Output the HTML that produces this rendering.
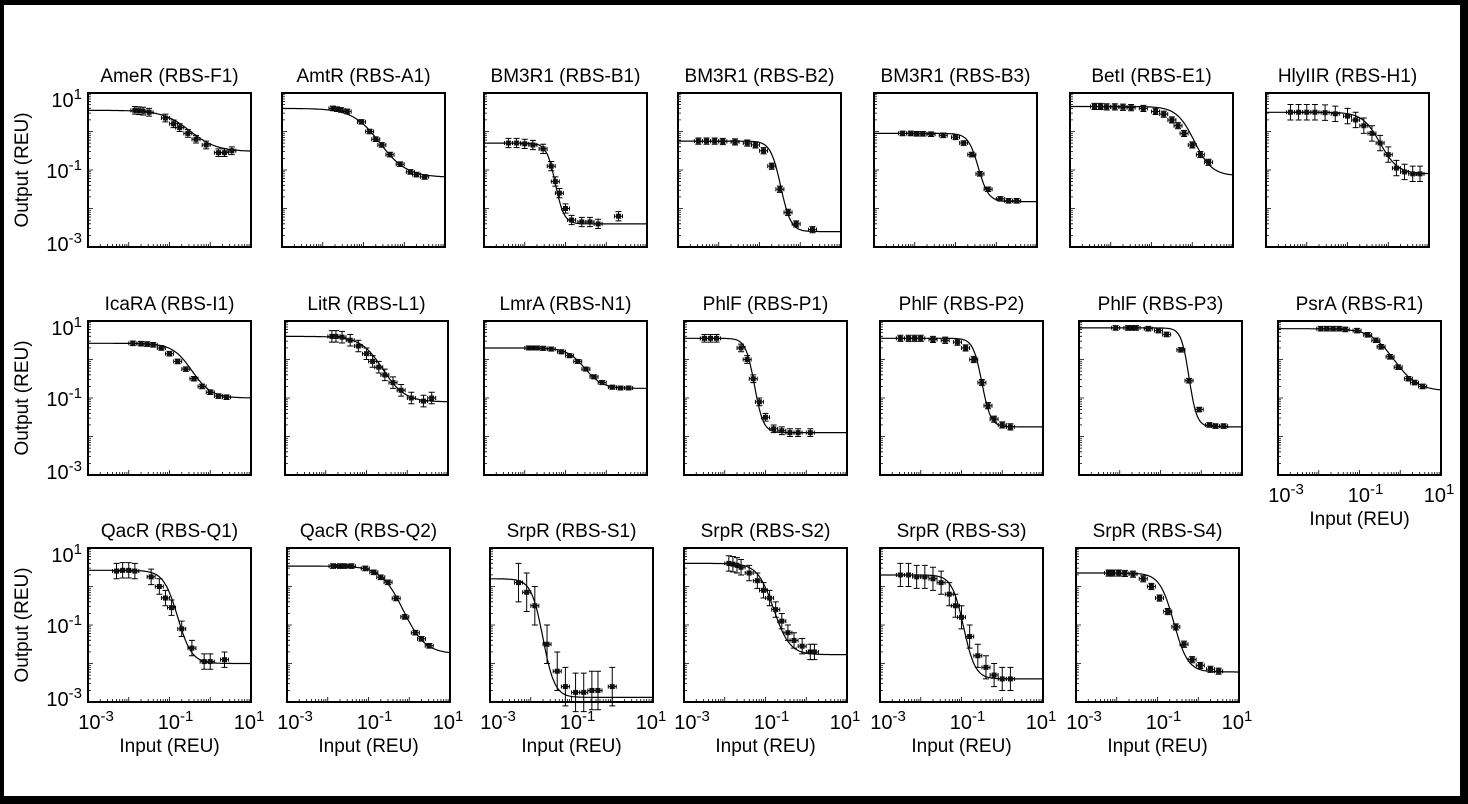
<!DOCTYPE html>
<html><head><meta charset="utf-8">
<style>
html,body{margin:0;padding:0;background:#000;}
#frame{position:absolute;left:4px;top:5px;width:1456px;height:791px;background:#fff;}
svg{position:absolute;left:0;top:0;}
text{font-family:"Liberation Sans",Arial,sans-serif;fill:#000;}
</style></head>
<body>
<div id="frame"></div>
<svg id="fig" width="1468" height="804"></svg>
<script>
const titles=["AmeR (RBS-F1)","AmtR (RBS-A1)","BM3R1 (RBS-B1)","BM3R1 (RBS-B2)","BM3R1 (RBS-B3)","BetI (RBS-E1)","HlyIIR (RBS-H1)",
"IcaRA (RBS-I1)","LitR (RBS-L1)","LmrA (RBS-N1)","PhlF (RBS-P1)","PhlF (RBS-P2)","PhlF (RBS-P3)","PsrA (RBS-R1)",
"QacR (RBS-Q1)","QacR (RBS-Q2)","SrpR (RBS-S1)","SrpR (RBS-S2)","SrpR (RBS-S3)","SrpR (RBS-S4)"];
// fit parameters: [log10 ymax, log10 ymin, log10 midpoint, n]
const fitParams=[[0.55,-0.52,-0.5,1.3],[0.6,-1.19,-0.6,1.3],[-0.3,-2.4,-1.25,4],[-0.25,-2.6,-0.48,3.5],[-0.05,-1.82,-0.44,3.5],[0.65,-1.15,0.05,2],[0.5,-1.1,-0.2,2],
[0.42,-1.0,-0.45,1.8],[0.6,-1.1,-0.6,1.6],[0.3,-0.75,-0.53,2],[0.55,-1.9,-1.27,4],[0.55,-1.75,-0.5,4],[0.82,-1.75,-0.3,4.5],[0.8,-0.82,-0.15,1.5],
[0.42,-2.0,-0.8,2.5],[0.53,-1.75,-0.15,1.6],[0.2,-2.88,-1.7,3],[0.6,-1.77,-0.8,2.2],[0.3,-2.4,-0.95,3],[0.35,-2.22,-0.6,2.5]];
// log10 input values
const inputs=[
[-1.85,-1.75,-1.65,-1.5,-1.1,-0.9,-0.75,-0.55,-0.35,-0.1,0.2,0.35,0.53],
[-1.75,-1.65,-1.55,-1.4,-1.05,-0.85,-0.7,-0.55,-0.35,-0.1,0.15,0.3,0.5],
[-2.4,-2.2,-2.0,-1.8,-1.55,-1.35,-1.25,-1.15,-1.0,-0.85,-0.6,-0.4,-0.2,0.3],
[-2.5,-2.3,-2.1,-1.9,-1.6,-1.3,-1.1,-0.9,-0.7,-0.5,-0.3,-0.1,0.3],
[-2.3,-2.1,-1.95,-1.8,-1.6,-1.3,-1.0,-0.8,-0.6,-0.4,-0.2,0.1,0.3,0.5],
[-2.4,-2.25,-2.1,-1.9,-1.7,-1.5,-1.2,-0.9,-0.7,-0.5,-0.35,-0.2,0.0,0.2,0.4],
[-2.4,-2.2,-2.0,-1.8,-1.55,-1.3,-1.0,-0.8,-0.6,-0.4,-0.2,0.0,0.2,0.4,0.6,0.78],
[-1.9,-1.7,-1.55,-1.4,-1.2,-1.0,-0.8,-0.6,-0.4,-0.2,0.0,0.2,0.4],
[-1.85,-1.75,-1.6,-1.4,-1.2,-1.0,-0.85,-0.7,-0.55,-0.35,-0.15,0.1,0.4,0.6],
[-1.9,-1.8,-1.7,-1.55,-1.35,-1.1,-0.9,-0.7,-0.5,-0.3,-0.1,0.15,0.35,0.55],
[-2.5,-2.35,-2.2,-1.6,-1.45,-1.3,-1.15,-1.0,-0.8,-0.6,-0.4,-0.2,0.1],
[-2.5,-2.3,-2.15,-2.0,-1.7,-1.4,-1.1,-0.9,-0.7,-0.5,-0.35,-0.2,0.0,0.2],
[-2.1,-1.8,-1.7,-1.6,-1.3,-1.05,-0.85,-0.5,-0.3,-0.05,0.2,0.35,0.55],
[-1.95,-1.8,-1.65,-1.5,-1.35,-1.06,-0.8,-0.6,-0.47,-0.25,-0.05,0.2,0.35,0.55],
[-2.3,-2.15,-2.0,-1.85,-1.45,-1.25,-1.1,-0.95,-0.7,-0.45,-0.15,0.0,0.35],
[-1.87,-1.7,-1.59,-1.42,-1.08,-0.87,-0.7,-0.52,-0.32,-0.11,0.15,0.3,0.49],
[-2.3,-2.1,-1.9,-1.6,-1.35,-1.15,-0.9,-0.7,-0.5,-0.35,0.0],
[-1.9,-1.8,-1.7,-1.6,-1.4,-1.2,-1.05,-0.9,-0.75,-0.6,-0.45,-0.3,-0.1,0.1,0.2],
[-2.5,-2.3,-2.1,-1.9,-1.7,-1.5,-1.3,-1.15,-1.0,-0.8,-0.6,-0.4,-0.2,0.0,0.2],
[-2.2,-2.1,-1.95,-1.8,-1.6,-1.35,-1.15,-0.95,-0.75,-0.55,-0.35,-0.15,0.05,0.3,0.5]];
// log10 output values
const outputs=[
[0.55,0.54,0.53,0.5,0.35,0.2,0.1,-0.05,-0.2,-0.35,-0.55,-0.55,-0.5],
[0.6,0.58,0.56,0.52,0.25,0.0,-0.2,-0.35,-0.6,-0.85,-1.05,-1.12,-1.18],
[-0.3,-0.3,-0.32,-0.35,-0.45,-0.9,-1.3,-1.6,-2.0,-2.3,-2.35,-2.35,-2.4,-2.2],
[-0.25,-0.25,-0.25,-0.26,-0.27,-0.3,-0.35,-0.5,-0.9,-1.5,-2.1,-2.4,-2.55],
[-0.05,-0.05,-0.06,-0.06,-0.07,-0.1,-0.15,-0.3,-0.6,-1.1,-1.5,-1.75,-1.8,-1.8],
[0.65,0.65,0.64,0.64,0.63,0.62,0.6,0.52,0.45,0.3,0.15,-0.05,-0.35,-0.6,-0.8],
[0.5,0.5,0.5,0.5,0.49,0.46,0.4,0.3,0.15,-0.05,-0.3,-0.6,-0.95,-1.05,-1.1,-1.1],
[0.42,0.41,0.4,0.38,0.3,0.15,-0.05,-0.25,-0.5,-0.7,-0.85,-0.95,-0.98],
[0.6,0.6,0.58,0.5,0.35,0.15,-0.05,-0.2,-0.4,-0.6,-0.8,-1.0,-1.08,-1.0],
[0.3,0.3,0.3,0.29,0.27,0.2,0.1,-0.05,-0.25,-0.45,-0.6,-0.72,-0.74,-0.74],
[0.55,0.55,0.55,0.3,0.0,-0.5,-1.1,-1.5,-1.8,-1.85,-1.9,-1.9,-1.9],
[0.55,0.55,0.55,0.55,0.52,0.5,0.45,0.3,0.0,-0.6,-1.2,-1.55,-1.7,-1.75],
[0.82,0.82,0.82,0.82,0.8,0.75,0.65,0.25,-0.55,-1.3,-1.7,-1.73,-1.73],
[0.8,0.8,0.8,0.8,0.78,0.75,0.64,0.5,0.33,0.07,-0.2,-0.5,-0.6,-0.7],
[0.4,0.42,0.42,0.4,0.25,0.0,-0.3,-0.55,-1.1,-1.6,-1.95,-1.95,-1.9],
[0.53,0.53,0.53,0.53,0.47,0.37,0.24,0.11,-0.31,-0.79,-1.2,-1.36,-1.54],
[0.1,-0.15,-0.5,-1.5,-2.2,-2.6,-2.75,-2.75,-2.7,-2.7,-2.6],
[0.6,0.58,0.55,0.5,0.35,0.15,-0.1,-0.3,-0.6,-0.9,-1.2,-1.4,-1.55,-1.7,-1.7],
[0.3,0.3,0.25,0.25,0.2,0.1,-0.2,-0.5,-0.8,-1.3,-1.8,-2.1,-2.3,-2.4,-2.4],
[0.35,0.35,0.35,0.34,0.32,0.2,0.0,-0.3,-0.65,-1.05,-1.5,-1.9,-2.05,-2.15,-2.2]];
// log10 error half-widths (output) per panel
const outputErr=[0.1,0.06,0.12,0.08,0.06,0.08,0.2,0.06,0.15,0.05,0.1,0.08,0.06,0.06,0.2,0.06,0.5,0.2,0.3,0.08];
const xTickLabels=["-3","-1","1"];
const yTickLabels=["1","-1","-3"];

const NS="http://www.w3.org/2000/svg";
const svg=document.getElementById('fig');
function mk(tag,attrs,parent){const e=document.createElementNS(NS,tag);for(const k in attrs)e.setAttribute(k,attrs[k]);(parent||svg).appendChild(e);return e;}
const W=163,H=154;
const rowTops=[93,321,548];
const rowLefts=[[88,282,484,678,874,1070,1266],[88,285,484,684,880,1079,1278],[88,287,490,684,880,1076]];
const panelIdx=[];
rowLefts.forEach((r,ri)=>r.forEach((l,ci)=>{panelIdx.push({left:l,top:rowTops[ri],row:ri,col:ci});}));

function pow10label(g,x,y,exp,anchor){
  const t=mk('text',{x:x,y:y,'font-size':20,'text-anchor':anchor},g);
  t.appendChild(document.createTextNode('10'));
  const s=mk('tspan',{dy:-8,'font-size':15},t);s.textContent=exp;
  return t;
}

panelIdx.forEach((p,i)=>{
  const g=mk('g',{});
  
  
  const L=p.left,T=p.top;
  const sx=v=>L+(v+3)/4*W;
  const sy=v=>T+(1-v)/4*H;
  const t=mk('text',{x:L+W/2,y:T-11,'font-size':19,'text-anchor':'middle'},g);
  t.textContent=titles[i];
  
  
  let d='';
  for(let dec=-3;dec<1;dec++){for(let m=1;m<10;m++){const v=dec+Math.log10(m);const len=m===1?5:3;
    d+=`M${sx(v)},${T+H}v${-len}`; d+=`M${L},${sy(v)}h${len}`;}}
  const tk=mk('path',{d:d,stroke:'#000','stroke-width':0.8,fill:'none'},g);
  
  
  const box=mk('rect',{x:L,y:T,width:W,height:H,fill:'none',stroke:'#000','stroke-width':2},g);
  
  
  const [lmax,lmin,lk,n]=fitParams[i];
  let pd='';
  for(let k=0;k<=160;k++){const lx=-3+4*k/160;const s=1/(1+Math.pow(10,n*(lx-lk)));const ly=lmin+(lmax-lmin)*s;
    pd+=(k?'L':'M')+sx(lx).toFixed(1)+','+sy(ly).toFixed(1);}
  const cv=mk('path',{d:pd,stroke:'#000','stroke-width':1.2,fill:'none'},g);
  
  
  const xs=inputs[i],ys=outputs[i],e=outputErr[i];
  xs.forEach((xv,j)=>{
    const X=sx(xv),Y=sy(ys[j]);const y1=sy(ys[j]+e),y2=sy(ys[j]-e);const xe=4;
    const eb=mk('path',{d:`M${X},${y1}V${y2}M${X-3},${y1}h6M${X-3},${y2}h6M${X-xe},${Y}H${X+xe}M${X-xe},${Y-2}v4M${X+xe},${Y-2}v4`,stroke:'#000','stroke-width':1,fill:'none'},g);
    
    
    const pt=mk('rect',{x:X-2.5,y:Y-2.5,width:5,height:5,fill:'#111'},g);
    
    
  });
  if(p.col===0){
    yTickLabels.forEach((lab,k)=>{const yy=sy(1-2*k)+8;const tl=pow10label(g,L-6,yy+(k===0?6:0)-(k===2?4:0),lab,'end');
      
      });
    const yt=mk('text',{x:0,y:0,'font-size':19,'text-anchor':'middle',transform:`translate(28,${T+H/2}) rotate(-90)`},g);
    yt.textContent='Output (REU)';
    
    
  }
  if(p.row===2||i===13){
    xTickLabels.forEach((lab,k)=>{const xx=sx(-3+2*k);const tl=pow10label(g,k===0?xx+8:(k===2?xx-2:xx+6),T+H+27,lab,'middle');
      
      });
    const xt=mk('text',{x:L+W/2,y:T+H+50,'font-size':19,'text-anchor':'middle'},g);
    xt.textContent='Input (REU)';
    
    
  }
});
</script>
</body></html>
